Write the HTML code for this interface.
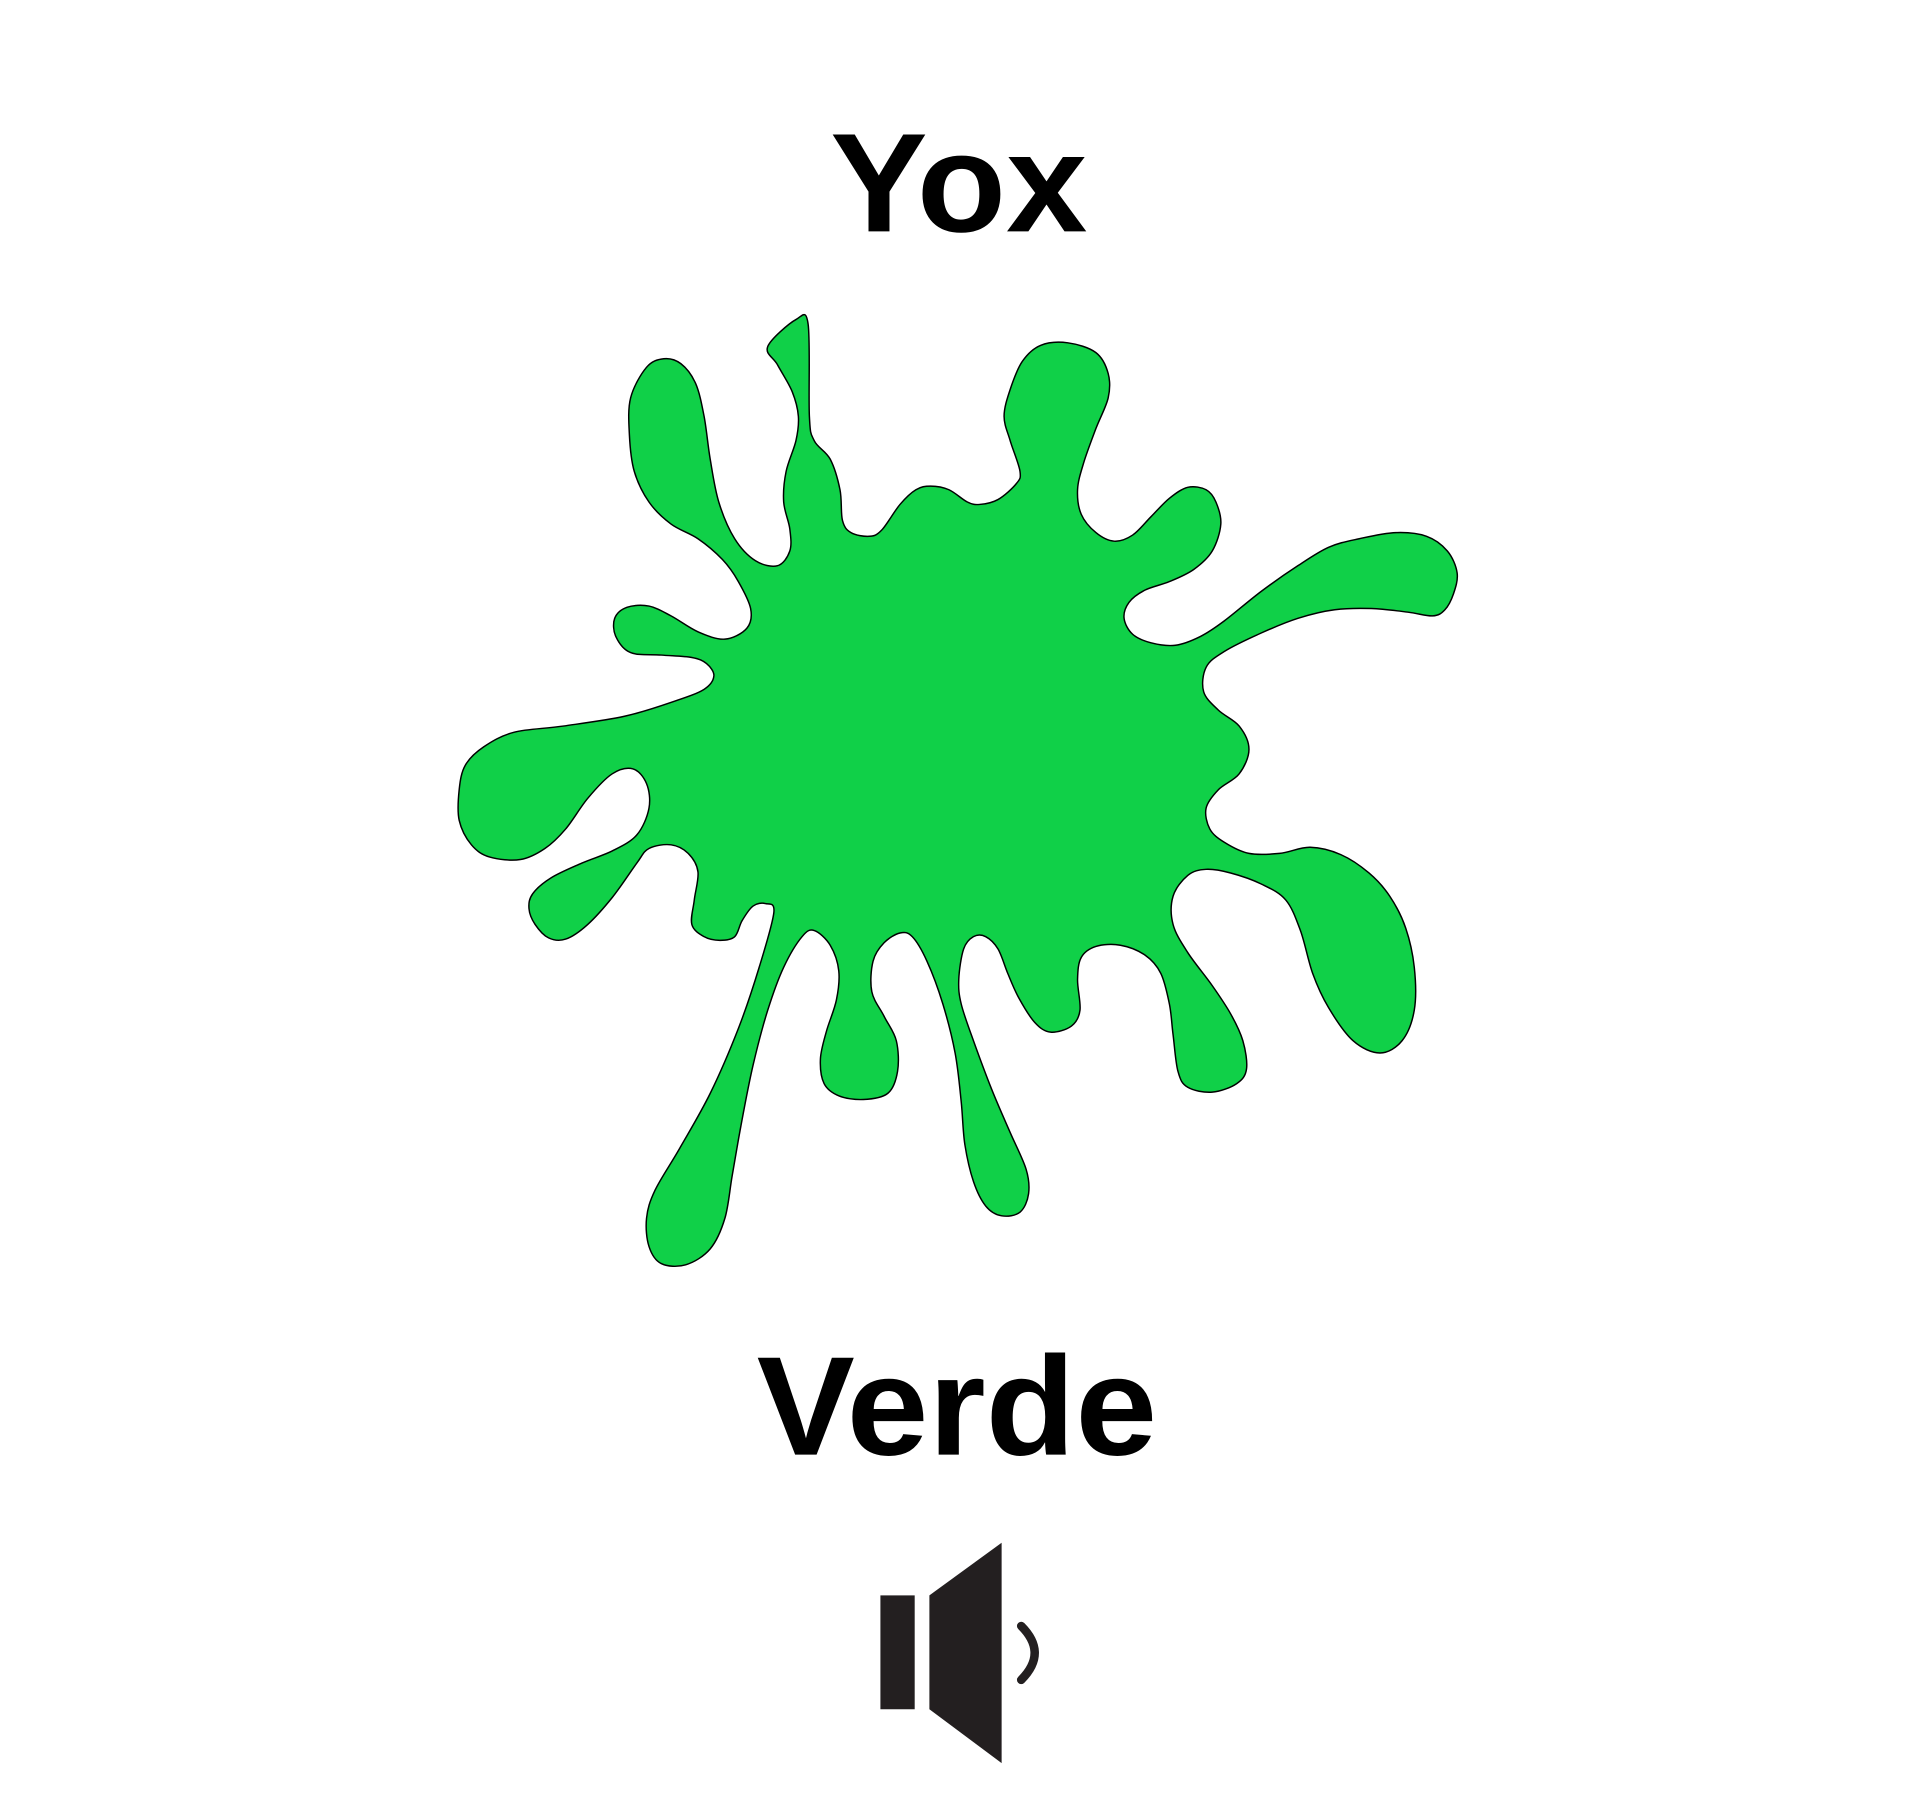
<!DOCTYPE html>
<html><head><meta charset="utf-8"><style>
html,body{margin:0;padding:0;background:#fff;}
svg{display:block;}
</style></head><body>
<svg id="s" width="1920" height="1817" viewBox="0 0 1568 1484" preserveAspectRatio="none" xmlns="http://www.w3.org/2000/svg">
<rect width="1568" height="1484" fill="#fff"/>
<text x="678" y="189" textLength="210" lengthAdjust="spacingAndGlyphs" font-family="Liberation Sans, sans-serif" font-weight="bold" font-size="115" fill="#000">Yox</text>
<path id="splat" fill="#10d048" stroke="#000" stroke-width="1.2"/>
<text x="618" y="1188" textLength="327" lengthAdjust="spacingAndGlyphs" font-family="Liberation Sans, sans-serif" font-weight="bold" font-size="115" fill="#000">Verde</text>
<g fill="#231f20">
<rect x="719" y="1303" width="28" height="93"/>
<polygon points="759,1303 818,1260 818,1440 759,1396"/>
<path d="M834,1328 Q856,1350 834,1372" fill="none" stroke="#231f20" stroke-width="7" stroke-linecap="round"/>
</g>
</svg>
<script>
var p=[627,283,650,261,660,265,661,340,665,360,678,375,686,400,688,425,695,435,710,438,720,433,735,412,748,400,760,397,775,400,790,410,800,412,815,408,830,395,833,385,825,360,820,340,825,318,835,295,850,282,872,280,895,288,905,305,905,325,895,350,885,378,880,400,883,420,895,435,910,442,925,437,940,422,955,407,970,398,985,400,993,410,997,428,990,450,975,465,955,475,935,482,922,492,918,505,925,518,940,525,960,527,980,520,1000,507,1030,483,1060,462,1085,447,1110,440,1140,435,1165,438,1182,450,1190,468,1187,485,1180,498,1170,503,1150,500,1120,497,1090,498,1060,505,1030,517,1000,532,985,545,983,565,995,580,1012,593,1020,612,1012,632,995,645,985,660,988,677,1000,688,1020,697,1045,697,1070,692,1095,698,1118,713,1135,732,1148,758,1155,790,1155,825,1145,850,1127,860,1105,850,1085,823,1072,795,1062,760,1050,735,1030,722,1005,713,985,710,970,715,958,732,958,755,970,778,990,805,1005,828,1015,850,1018,873,1010,885,990,892,970,888,962,875,958,845,955,820,948,795,935,780,915,772,895,773,883,782,880,800,882,825,875,838,858,843,845,835,832,815,823,795,815,775,805,765,795,765,787,775,783,800,785,820,795,850,810,890,825,925,838,955,840,975,833,990,818,993,805,985,795,965,788,935,785,900,780,860,770,820,757,785,745,765,735,762,722,770,713,785,712,810,722,830,732,850,733,875,725,893,705,898,685,895,673,885,670,865,675,842,683,817,685,793,678,772,665,760,655,765,640,790,627,825,615,870,605,920,598,960,592,995,580,1020,560,1033,540,1032,530,1018,528,995,535,972,555,938,580,893,603,840,620,790,632,745,625,738,615,740,606,752,600,765,588,768,575,765,565,755,567,735,570,712,562,697,548,690,530,693,520,705,500,733,480,755,462,767,448,766,437,755,432,742,435,730,450,717,475,705,500,695,520,682,530,660,528,640,517,628,500,632,480,652,462,677,445,693,425,702,400,700,385,690,375,670,375,645,380,625,395,610,420,598,460,593,510,585,550,573,575,563,583,552,577,542,565,537,540,535,515,533,503,520,502,505,512,496,530,495,548,503,570,516,592,522,610,513,613,497,603,475,590,457,570,440,548,428,530,410,518,385,514,355,515,325,528,300,542,293,556,297,568,313,575,340,580,375,587,410,600,440,617,458,635,462,645,450,645,432,640,410,642,385,650,360,652,340,647,320,635,298];
var pts=[];for(var i=0;i<p.length;i+=2)pts.push([p[i],p[i+1]]);
var n=pts.length,d="M"+pts[0][0]+","+pts[0][1];
for(var i=0;i<n;i++){var a=pts[(i-1+n)%n],b=pts[i],c=pts[(i+1)%n],e=pts[(i+2)%n];
d+=" C"+(b[0]+(c[0]-a[0])/6).toFixed(1)+","+(b[1]+(c[1]-a[1])/6).toFixed(1)+" "+(c[0]-(e[0]-b[0])/6).toFixed(1)+","+(c[1]-(e[1]-b[1])/6).toFixed(1)+" "+c[0]+","+c[1];}
document.getElementById('splat').setAttribute('d',d+"Z");
</script>
</body></html>
